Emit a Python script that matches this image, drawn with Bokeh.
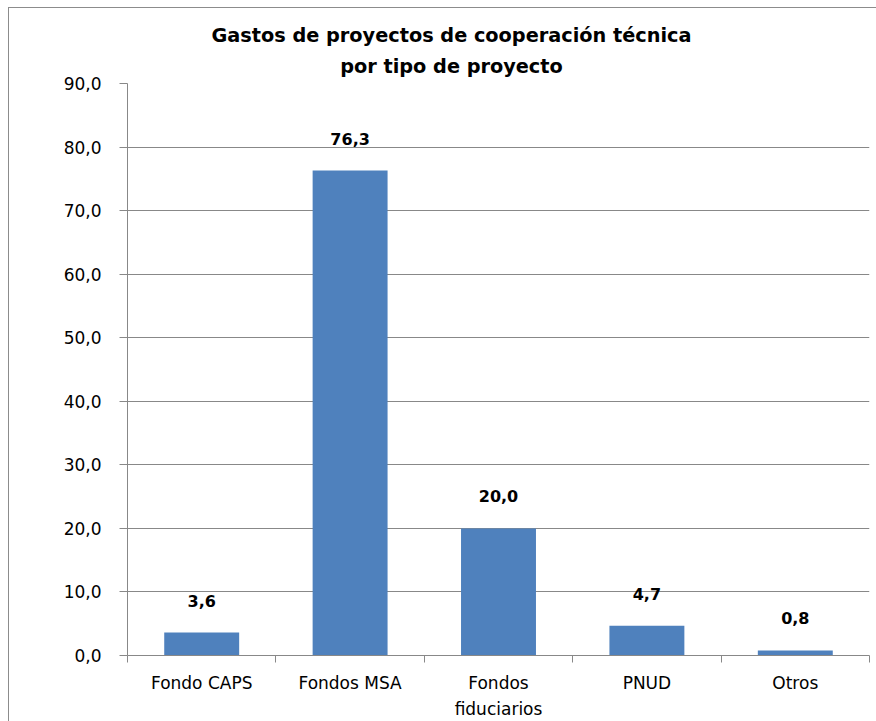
from bokeh.plotting import figure
from bokeh.models import Range1d, FixedTicker, ColumnDataSource, LabelSet, Div
from bokeh.core.properties import value
from bokeh.layouts import column
from bokeh.embed import file_html
from bokeh.resources import INLINE

categories = ["Fondo CAPS", "Fondos MSA", "Fondos\nfiduciarios", "PNUD", "Otros"]
values = [3.6, 76.3, 20.0, 4.7, 0.8]
value_labels = ["3,6", "76,3", "20,0", "4,7", "0,8"]
y_ticks = [0, 10, 20, 30, 40, 50, 60, 70, 80, 90]
y_tick_labels = ["0,0", "10,0", "20,0", "30,0", "40,0", "50,0", "60,0", "70,0", "80,0", "90,0"]
title_lines = ["Gastos de proyectos de cooperación técnica", "por tipo de proyecto"]

FONT = "DejaVu Sans"
GRID = "#888888"
BAR = "#4F81BD"

xpos = [i + 0.5 for i in range(len(categories))]
src = ColumnDataSource(dict(x=xpos, top=values, lab=value_labels))

# title overlaid on the top border area of the figure
title = Div(text="<br>".join(title_lines), width=867, height=70,
            styles={"position": "absolute", "top": "0px", "left": "0px", "z-index": "2",
                    "text-align": "center", "font-family": FONT, "font-weight": "bold",
                    "font-size": "19.3px", "line-height": "31px", "padding-top": "7px",
                    "padding-left": "8px", "box-sizing": "border-box", "color": "black"})

p = figure(width=867, height=713, output_backend="svg", toolbar_location=None,
           x_range=Range1d(0, 5), y_range=Range1d(0, 90),
           min_border_left=118, min_border_right=7, min_border_top=75, min_border_bottom=65)
p.outline_line_color = None
p.background_fill_color = "white"
p.border_fill_color = None

p.vbar(x="x", top="top", width=0.505, bottom=0, source=src, fill_color=BAR, line_color=None)

labels = LabelSet(x="x", y="top", text="lab", source=src, text_align="center",
                  text_baseline="alphabetic", y_offset=26, text_font=value(FONT),
                  text_font_size="16px", text_font_style="bold", text_color="black")
p.add_layout(labels)

# x axis: labels at category centres, tick marks at category boundaries
p.xaxis.ticker = FixedTicker(ticks=xpos, minor_ticks=list(range(len(categories) + 1)))
p.xaxis.major_label_overrides = {x: c for x, c in zip(xpos, categories)}
p.xaxis.major_tick_out = 0
p.xaxis.major_tick_in = 0
p.xaxis.minor_tick_out = 7
p.xaxis.minor_tick_in = 0
p.xaxis.minor_tick_line_color = GRID
p.xaxis.axis_line_color = GRID
p.xaxis.major_label_standoff = 10
p.xaxis.major_label_text_font = FONT
p.xaxis.major_label_text_font_size = "17px"
p.xaxis.major_label_text_line_height = 1.3
p.xaxis.major_label_text_color = "black"

# y axis
p.yaxis.ticker = FixedTicker(ticks=y_ticks)
p.yaxis.major_label_overrides = {t: l for t, l in zip(y_ticks, y_tick_labels)}
p.yaxis.major_tick_out = 8
p.yaxis.major_tick_in = 0
p.yaxis.minor_tick_line_color = None
p.yaxis.major_tick_line_color = GRID
p.yaxis.axis_line_color = GRID
p.yaxis.major_label_standoff = 18
p.yaxis.major_label_text_font = FONT
p.yaxis.major_label_text_font_size = "17px"
p.yaxis.major_label_text_color = "black"

p.xgrid.grid_line_color = None
p.ygrid.ticker = FixedTicker(ticks=y_ticks)
p.ygrid.grid_line_color = GRID

layout = column(title, p, spacing=0,
                styles={"position": "relative",
                        "border-left": "1px solid #8c8c8c", "border-top": "1px solid #8c8c8c",
                        "background-color": "white", "margin-left": "8px", "margin-top": "7px"})

open("out.html", "w").write(file_html(layout, INLINE))
